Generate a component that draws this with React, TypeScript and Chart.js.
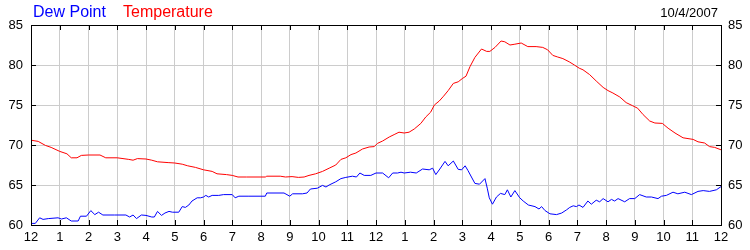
import React, { useEffect, useRef } from "react";
import { Chart, registerables } from "chart.js";

Chart.register(...registerables);

const hourLabels = ["12","1","2","3","4","5","6","7","8","9","10","11","12","1","2","3","4","5","6","7","8","9","10","11","12"];
const yTicks = [60, 65, 70, 75, 80, 85];
const dateLabel = "10/4/2007";
const seriesNames = ["Dew Point", "Temperature"];

const tempHours = [0,0.25,0.5,0.7,1.0,1.25,1.4,1.6,1.75,2.0,2.4,2.6,3.0,3.4,3.55,3.7,4.0,4.2,4.4,4.77,5.0,5.26,5.45,5.72,6.0,6.3,6.47,6.8,7.0,7.2,7.5,8.15,8.2,8.67,8.85,9.08,9.3,9.5,9.67,9.9,10.14,10.37,10.6,10.78,10.95,11.13,11.3,11.53,11.76,11.94,12.05,12.23,12.46,12.63,12.8,12.98,13.15,13.33,13.56,13.73,13.9,14.03,14.2,14.35,14.51,14.69,14.86,15.0,15.13,15.27,15.44,15.56,15.67,15.85,15.96,16.14,16.35,16.48,16.66,16.83,17.05,17.28,17.57,17.8,17.97,18.15,18.32,18.5,18.72,18.9,19.07,19.2,19.43,19.66,19.9,20.07,20.24,20.48,20.7,20.93,21.1,21.29,21.52,21.7,21.96,22.16,22.4,22.68,23.03,23.2,23.43,23.6,23.78,24.0];
const tempValues = [70.6,70.45,69.95,69.7,69.2,68.9,68.4,68.4,68.7,68.75,68.75,68.4,68.4,68.2,68.1,68.3,68.25,68.1,67.9,67.8,67.75,67.6,67.4,67.2,66.9,66.7,66.4,66.3,66.2,66.0,66.0,66.0,66.1,66.1,66.0,66.05,65.95,66.0,66.2,66.4,66.7,67.1,67.5,68.2,68.4,68.8,69.0,69.5,69.75,69.8,70.2,70.5,71.0,71.3,71.6,71.5,71.6,72.0,72.7,73.5,74.1,75.0,75.5,76.1,76.8,77.7,77.9,78.3,78.6,79.8,80.95,81.5,82.0,81.7,81.7,82.2,83.0,82.9,82.5,82.6,82.75,82.3,82.3,82.2,81.9,81.2,81.0,80.8,80.4,80.0,79.6,79.4,78.8,78.0,77.2,76.8,76.5,76.0,75.3,74.9,74.6,73.8,73.0,72.75,72.7,72.1,71.5,70.9,70.7,70.4,70.25,69.8,69.7,69.4];

const dewHours = [0,0.15,0.3,0.42,0.6,0.94,1.06,1.23,1.4,1.64,1.72,1.93,2.08,2.22,2.35,2.5,2.9,3.3,3.43,3.55,3.67,3.84,4.0,4.2,4.29,4.4,4.54,4.66,4.8,4.92,5.14,5.26,5.37,5.49,5.6,5.78,5.9,6.0,6.08,6.18,6.3,6.53,6.7,7.0,7.1,7.23,7.58,8.15,8.2,8.8,9.0,9.1,9.44,9.6,9.72,9.96,10.14,10.26,10.37,10.6,10.78,10.95,11.18,11.32,11.44,11.59,11.82,12.0,12.23,12.44,12.58,12.75,12.87,12.98,13.2,13.4,13.62,13.85,13.97,14.08,14.22,14.4,14.51,14.69,14.86,14.98,15.1,15.2,15.32,15.44,15.6,15.79,15.87,15.94,16.05,16.19,16.33,16.48,16.57,16.69,16.83,17.0,17.12,17.3,17.53,17.67,17.76,17.88,18.05,18.28,18.46,18.63,18.74,18.86,18.97,19.06,19.2,19.37,19.49,19.66,19.78,19.9,20.07,20.19,20.3,20.42,20.65,20.82,21.0,21.17,21.4,21.58,21.81,21.93,22.1,22.33,22.5,22.74,22.97,23.2,23.38,23.6,23.84,24.0];
const dewValues = [60.2,60.2,60.9,60.7,60.8,60.9,60.75,60.9,60.5,60.5,61.1,61.1,61.8,61.3,61.6,61.25,61.25,61.25,61.0,61.25,60.8,61.25,61.2,61.0,61.0,61.7,61.2,61.5,61.7,61.6,61.6,62.3,62.2,62.5,63.0,63.4,63.4,63.5,63.7,63.5,63.7,63.7,63.8,63.8,63.4,63.6,63.6,63.6,64.0,64.0,63.6,63.9,63.9,64.0,64.5,64.6,64.95,64.75,65.0,65.4,65.8,65.95,66.1,66.0,66.5,66.2,66.2,66.5,66.5,65.9,66.5,66.5,66.6,66.5,66.6,66.5,67.0,66.9,67.1,66.3,67.0,67.95,67.4,68.0,66.95,66.9,67.4,66.8,66.0,65.2,65.1,65.8,64.6,63.4,62.6,63.5,63.95,63.8,64.4,63.5,64.3,63.4,63.0,62.5,62.3,62.0,62.3,61.8,61.4,61.3,61.5,61.9,62.2,62.4,62.3,62.5,62.2,63.0,62.6,63.1,62.9,63.3,62.9,63.2,63.0,63.3,62.9,63.3,63.3,63.8,63.5,63.5,63.3,63.6,63.7,64.1,63.9,64.1,63.8,64.2,64.3,64.2,64.4,64.8];

const FONT = "'Liberation Sans', Arial, sans-serif";

const framePlugin = {
  id: "frame",
  afterDraw(chart: any) {
    const { ctx, chartArea } = chart;
    const { left, right, top, bottom } = chartArea;
    const xs = chart.scales.x;
    const ys = chart.scales.y;
    ctx.save();
    ctx.strokeStyle = "#000";
    ctx.lineWidth = 1;
    ctx.beginPath();
    for (let h = 1; h < hourLabels.length - 1; h++) {
      const px = Math.round(xs.getPixelForValue(h)) + 0.5;
      ctx.moveTo(px, top);
      ctx.lineTo(px, top + 5);
      ctx.moveTo(px, bottom);
      ctx.lineTo(px, bottom - 5);
    }
    for (let i = 1; i < yTicks.length - 1; i++) {
      const py = Math.round(ys.getPixelForValue(yTicks[i])) + 0.5;
      ctx.moveTo(left, py);
      ctx.lineTo(left + 5, py);
      ctx.moveTo(right, py);
      ctx.lineTo(right - 5, py);
    }
    ctx.stroke();
    ctx.strokeRect(Math.round(left) + 0.5, Math.round(top) + 0.5, Math.round(right - left), Math.round(bottom - top));

    ctx.textBaseline = "alphabetic";
    ctx.font = `16px ${FONT}`;
    ctx.textAlign = "left";
    ctx.fillStyle = "#0000ff";
    ctx.fillText(seriesNames[0], 33, 17);
    ctx.fillStyle = "#ff0000";
    ctx.fillText(seriesNames[1], 123, 17);
    ctx.font = `13px ${FONT}`;
    ctx.fillStyle = "#000";
    ctx.textAlign = "right";
    ctx.fillText(dateLabel, 718, 17);
    ctx.restore();
  },
};

export default function App() {
  const ref = useRef<HTMLCanvasElement>(null);
  useEffect(() => {
    if (!ref.current) return;
    const tickFont = { family: FONT, size: 13 };
    const chart = new Chart(ref.current, {
      type: "line",
      data: {
        datasets: [
          {
            label: seriesNames[1],
            data: tempHours.map((h, i) => ({ x: h, y: tempValues[i] })),
            borderColor: "#ff0000",
            borderWidth: 1,
            pointRadius: 0,
            tension: 0,
            fill: false,
          },
          {
            label: seriesNames[0],
            data: dewHours.map((h, i) => ({ x: h, y: dewValues[i] })),
            borderColor: "#0000ff",
            borderWidth: 1,
            pointRadius: 0,
            tension: 0,
            fill: false,
          },
        ],
      },
      options: {
        animation: false,
        responsive: false,
        devicePixelRatio: 1,
        layout: { padding: { top: 25, left: 0, right: 0, bottom: 0 } },
        plugins: { legend: { display: false }, tooltip: { enabled: false } },
        scales: {
          x: {
            type: "linear",
            position: "bottom",
            min: 0,
            max: 24,
            grid: { color: "#cccccc", drawTicks: false },
            border: { display: false },
            ticks: {
              stepSize: 1,
              autoSkip: false,
              maxRotation: 0,
              padding: 5,
              color: "#000",
              font: tickFont,
              callback: (v: any) => hourLabels[v as number] ?? "",
            },
            afterFit: (s: any) => { s.height = 25; },
          },
          y: {
            type: "linear",
            position: "left",
            min: 60,
            max: 85,
            grid: { color: "#cccccc", drawTicks: false },
            border: { display: false },
            ticks: { stepSize: 5, padding: 8, color: "#000", font: tickFont },
            afterFit: (s: any) => { s.width = 31; },
          },
          y2: {
            type: "linear",
            position: "right",
            min: 60,
            max: 85,
            grid: { display: false, drawTicks: false },
            border: { display: false },
            ticks: { stepSize: 5, padding: 7, color: "#000", font: tickFont },
            afterFit: (s: any) => { s.width = 29; },
          },
        },
      },
      plugins: [framePlugin],
    });
    return () => chart.destroy();
  }, []);
  return (
    <div style={{ position: "absolute", left: 0, top: 0, width: 750, height: 250, background: "#fff" }}>
      <canvas ref={ref} width={750} height={250} />
    </div>
  );
}
